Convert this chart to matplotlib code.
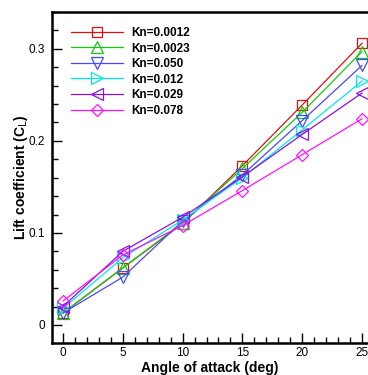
import matplotlib
matplotlib.use("Agg")
import matplotlib.pyplot as plt
from matplotlib.ticker import MultipleLocator

plt.rcParams['font.family'] = ['Liberation Sans', 'DejaVu Sans']

alpha = [0, 5, 10, 15, 20, 25]
labels = ["Kn=0.0012", "Kn=0.0023", "Kn=0.050", "Kn=0.012", "Kn=0.029", "Kn=0.078"]
cl_0012 = [0.013, 0.062, 0.110, 0.173, 0.239, 0.306]
cl_0023 = [0.013, 0.062, 0.111, 0.170, 0.231, 0.297]
cl_050 = [0.013, 0.052, 0.113, 0.163, 0.222, 0.282]
cl_012 = [0.018, 0.073, 0.114, 0.160, 0.212, 0.265]
cl_029 = [0.020, 0.080, 0.117, 0.161, 0.207, 0.252]
cl_078 = [0.026, 0.076, 0.108, 0.146, 0.185, 0.224]
series = [cl_0012, cl_0023, cl_050, cl_012, cl_029, cl_078]

colors = ['#e01010', '#10cc10', '#4848ff', '#00e8e8', '#8a10f0', '#ff10ff']
markers = ['s', '^', 'v', '>', '<', 'D']
msizes = [7.5, 8, 8, 8, 8, 6.5]

fig = plt.figure(figsize=(3.68, 3.75), dpi=100)
ax = fig.add_axes([52/368, 1-343/375, 1-52/368, (343-12)/375])

for y, c, m, ms, lab in zip(series, colors, markers, msizes, labels):
    ax.plot(alpha, y, color=c, marker=m, markersize=ms,
            markerfacecolor='none', markeredgecolor=c, markeredgewidth=0.9,
            linewidth=0.9, label=lab)

ax.set_xlim(-0.92, 25.5)
ax.set_ylim(-0.0196, 0.340)
ax.xaxis.set_minor_locator(MultipleLocator(1))
ax.yaxis.set_minor_locator(MultipleLocator(0.02))
ax.set_xticks([0, 5, 10, 15, 20, 25])
ax.set_xticklabels(['0', '5', '10', '15', '20', '25'])
ax.set_yticks([0, 0.1, 0.2, 0.3])
ax.set_yticklabels(['0', '0.1', '0.2', '0.3'])

ax.tick_params(which='major', direction='in', length=7, width=1.0, labelsize=8.5, colors='black')
ax.tick_params(axis='x', which='major', pad=3)
ax.tick_params(axis='y', which='major', pad=5)
ax.tick_params(which='minor', direction='in', length=4, width=1.0)
ax.tick_params(axis='x', which='both', top=False)
ax.tick_params(axis='y', which='both', right=False)

for s in ['left', 'bottom', 'top']:
    ax.spines[s].set_linewidth(1.8)
ax.spines['right'].set_visible(False)

ax.set_xlabel('Angle of attack (deg)', fontsize=10, fontweight='bold')
ax.set_ylabel('Lift coefficient (C$_{\\mathrm{L}}$)', fontsize=10, fontweight='bold')
ax.xaxis.set_label_coords(0.5, -0.055)
ax.yaxis.set_label_coords(-0.07, 0.5)

leg = ax.legend(loc='upper left', bbox_to_anchor=(0.045, 0.969), frameon=False,
                prop={'weight': 'bold', 'size': 8.5}, handlelength=4.4,
                handletextpad=0.7, labelspacing=0.30, borderaxespad=0)

fig.savefig('out.png', dpi=100)
